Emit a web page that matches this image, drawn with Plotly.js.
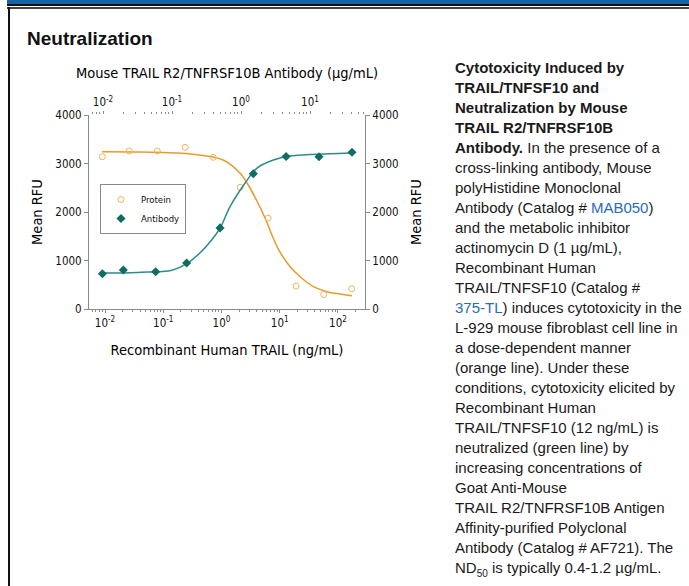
<!DOCTYPE html>
<html>
<head>
<meta charset="utf-8">
<script src="https://cdn.plot.ly/plotly-3.0.1.min.js"></script>
<style>
  html, body { margin:0; padding:0; background:#fff; width:689px; height:586px; overflow:hidden; }
  #frame-blue { position:absolute; left:7px; top:0; width:682px; height:4px; background:#1664a6; }
  #frame-black { position:absolute; left:7px; top:4px; width:682px; height:2px; background:#111; }
  #frame-gray { position:absolute; left:7px; top:7px; width:682px; height:1.5px; background:#444; }
  #frame-left { position:absolute; left:8px; top:7px; width:2px; height:579px; background:#111; }
  #heading { position:absolute; left:27px; top:28px; font-family:"Liberation Sans", Arial, sans-serif; font-weight:bold; font-size:19px; line-height:22px; color:#111; }
  #chart { position:absolute; left:0; top:0; width:689px; height:586px; }
  #desc { position:absolute; left:455px; top:58px; font-family:"Liberation Sans", Arial, sans-serif; font-size:15px; line-height:20px; color:#1a1a1a; white-space:nowrap; }
  #desc a { color:#2a6db3; text-decoration:none; }
</style>
</head>
<body>
<div id="frame-blue"></div>
<div id="frame-black"></div>
<div id="frame-gray"></div>
<div id="frame-left"></div>
<div id="heading">Neutralization</div>
<div id="chart"></div>
<div id="desc"><b>Cytotoxicity Induced by<br>TRAIL/TNFSF10 and<br>Neutralization by Mouse<br>TRAIL R2/TNFRSF10B<br>Antibody.</b> In the presence of a<br>cross-linking antibody, Mouse<br>polyHistidine Monoclonal<br>Antibody (Catalog # <a>MAB050</a>)<br>and the metabolic inhibitor<br>actinomycin D (1 µg/mL),<br>Recombinant Human<br>TRAIL/TNFSF10 (Catalog #<br><a>375-TL</a>) induces cytotoxicity in the<br>L-929 mouse fibroblast cell line in<br>a dose-dependent manner<br>(orange line). Under these<br>conditions, cytotoxicity elicited by<br>Recombinant Human<br>TRAIL/TNFSF10 (12 ng/mL) is<br>neutralized (green line) by<br>increasing concentrations of<br>Goat Anti-Mouse<br>TRAIL R2/TNFRSF10B Antigen<br>Affinity-purified Polyclonal<br>Antibody (Catalog # AF721). The<br>ND<sub style="font-size:10px">50</sub> is typically 0.4-1.2 µg/mL.</div>
<script>
// ---- data ----
const proteinConc = [0.009, 0.026, 0.079, 0.238, 0.72, 2.09, 6.3, 19.1, 57, 172];      // ng/mL
const proteinRFU  = [3140, 3258, 3258, 3334, 3128, 2509, 1874, 472, 300, 419];

const antibodyConc = [0.0098, 0.0197, 0.058, 0.163, 0.497, 1.51, 4.5, 13.5, 40.6];      // µg/mL
const antibodyRFU  = [728, 804, 769, 948, 1672, 2790, 3145, 3140, 3231];

const proteinFitConc = [0.0089, 0.0316, 0.1, 0.29, 1.07, 2.09, 2.88, 3.98, 5.62, 7.76, 10, 15.1, 22.4, 38, 64.6, 107, 174];
const proteinFitRFU  = [3240, 3236, 3225, 3196, 3072, 2798, 2557, 2247, 1870, 1458, 1181, 872, 666, 460, 357, 309, 274];

const antibodyFitConc = [0.0098, 0.0316, 0.1, 0.162, 0.251, 0.376, 0.501, 0.693, 1.14, 1.69, 2.94, 5.13, 8.95, 20, 40.7];
const antibodyFitRFU  = [740, 755, 800, 930, 1150, 1423, 1676, 2109, 2592, 2901, 3072, 3155, 3181, 3200, 3215];

const bottomTickVals = [0.01, 0.1, 1, 10, 100];
const bottomTickText = ['10<sup>-2</sup>', '10<sup>-1</sup>', '10<sup>0</sup>', '10<sup>1</sup>', '10<sup>2</sup>'];
const topTickVals = [0.01, 0.1, 1, 10];
const topTickText = ['10<sup>-2</sup>', '10<sup>-1</sup>', '10<sup>0</sup>', '10<sup>1</sup>'];
const yTickVals = [0, 1000, 2000, 3000, 4000];

const seriesNames = ['Protein', 'Antibody'];
const titleText = 'Mouse TRAIL R2/TNFRSF10B Antibody (µg/mL)';
const xTitleText = 'Recombinant Human TRAIL (ng/mL)';
const yTitleText = 'Mean RFU';

// ---- styles ----
const NARROW = '"Liberation Sans Narrow", "Arial Narrow", "DejaVu Sans Condensed", sans-serif';
const axisColor = '#8a8a8a';
const orangeLine = '#E89B2A';
const orangeMarker = '#EFB55A';
const tealLine = '#2B8C8A';
const tealMarker = '#0E6C61';

const traces = [
  { x: proteinFitConc, y: proteinFitRFU, xaxis: 'x', yaxis: 'y', mode: 'lines', type: 'scatter',
    line: { color: orangeLine, width: 1.5, shape: 'spline', smoothing: 1 }, showlegend: false, hoverinfo: 'skip' },
  { x: antibodyFitConc, y: antibodyFitRFU, xaxis: 'x2', yaxis: 'y2', mode: 'lines', type: 'scatter',
    line: { color: tealLine, width: 1.5, shape: 'spline', smoothing: 1 }, showlegend: false, hoverinfo: 'skip' },
  { x: proteinConc, y: proteinRFU, xaxis: 'x', yaxis: 'y', mode: 'markers', type: 'scatter', name: seriesNames[0],
    marker: { symbol: 'circle-open', size: 6, color: orangeMarker, line: { width: 1, color: orangeMarker } } },
  { x: antibodyConc, y: antibodyRFU, xaxis: 'x2', yaxis: 'y2', mode: 'markers', type: 'scatter', name: seriesNames[1],
    marker: { symbol: 'diamond', size: 7, color: tealMarker } }
];

const minorTicks = { ticks: 'outside', ticklen: 2, tickcolor: axisColor, tickwidth: 1, dtick: 'D1', showgrid: false };
const tickFont = { family: NARROW, size: 11.5, color: '#111' };
const titleFont = { family: NARROW, size: 14.5, color: '#000' };

const layout = {
  width: 689, height: 586,
  margin: { l: 89, r: 324, t: 115, b: 277, pad: 0 },
  paper_bgcolor: 'rgba(0,0,0,0)', plot_bgcolor: 'rgba(0,0,0,0)',
  font: { family: NARROW, color: '#111' },
  showlegend: true,
  title: { text: titleText, x: 227 / 689, xanchor: 'center', xref: 'container', y: 1 - 73 / 586, yanchor: 'middle', yref: 'container',
           font: { family: NARROW, size: 14.5, color: '#000' } },
  xaxis: {
    type: 'log', range: [-2.275, 2.464], tickmode: 'array', tickvals: bottomTickVals, ticktext: bottomTickText,
    ticks: 'outside', ticklen: 3, tickcolor: axisColor, showline: true, linecolor: axisColor, linewidth: 1,
    showgrid: false, zeroline: false, minor: minorTicks, tickfont: tickFont,
    title: { text: xTitleText, font: titleFont, standoff: 16 }
  },
  xaxis2: {
    type: 'log', range: [-2.203, 1.797], overlaying: 'x', side: 'top', anchor: 'y2',
    tickmode: 'array', tickvals: topTickVals, ticktext: topTickText,
    ticks: 'outside', ticklen: 3, tickcolor: axisColor, showline: false,
    showgrid: false, zeroline: false, minor: minorTicks, tickfont: tickFont
  },
  yaxis: {
    range: [0, 4000], tickmode: 'array', tickvals: yTickVals, ticks: 'outside', ticklen: 4, tickcolor: axisColor,
    showline: true, linecolor: axisColor, linewidth: 1, showgrid: false, zeroline: false, tickfont: tickFont,
    title: { text: yTitleText, font: titleFont, standoff: 9 }
  },
  yaxis2: {
    range: [0, 4000], overlaying: 'y', side: 'right', anchor: 'x2', tickmode: 'array', tickvals: yTickVals,
    ticks: 'outside', ticklen: 4, tickcolor: axisColor,
    showline: true, linecolor: axisColor, linewidth: 1, showgrid: false, zeroline: false, tickfont: tickFont,
    title: { text: yTitleText, font: titleFont, standoff: 13 }
  },
  legend: {
    x: (100 - 89) / 276, y: (309 - 184) / 194, xanchor: 'left', yanchor: 'top',
    bordercolor: axisColor, borderwidth: 1, bgcolor: 'rgba(255,255,255,0)',
    font: { family: NARROW, size: 9.5, color: '#111' }, itemwidth: 30, tracegroupgap: 0
  }
};

Plotly.newPlot('chart', traces, layout, { staticPlot: true, displayModeBar: false });
</script>
</body>
</html>
